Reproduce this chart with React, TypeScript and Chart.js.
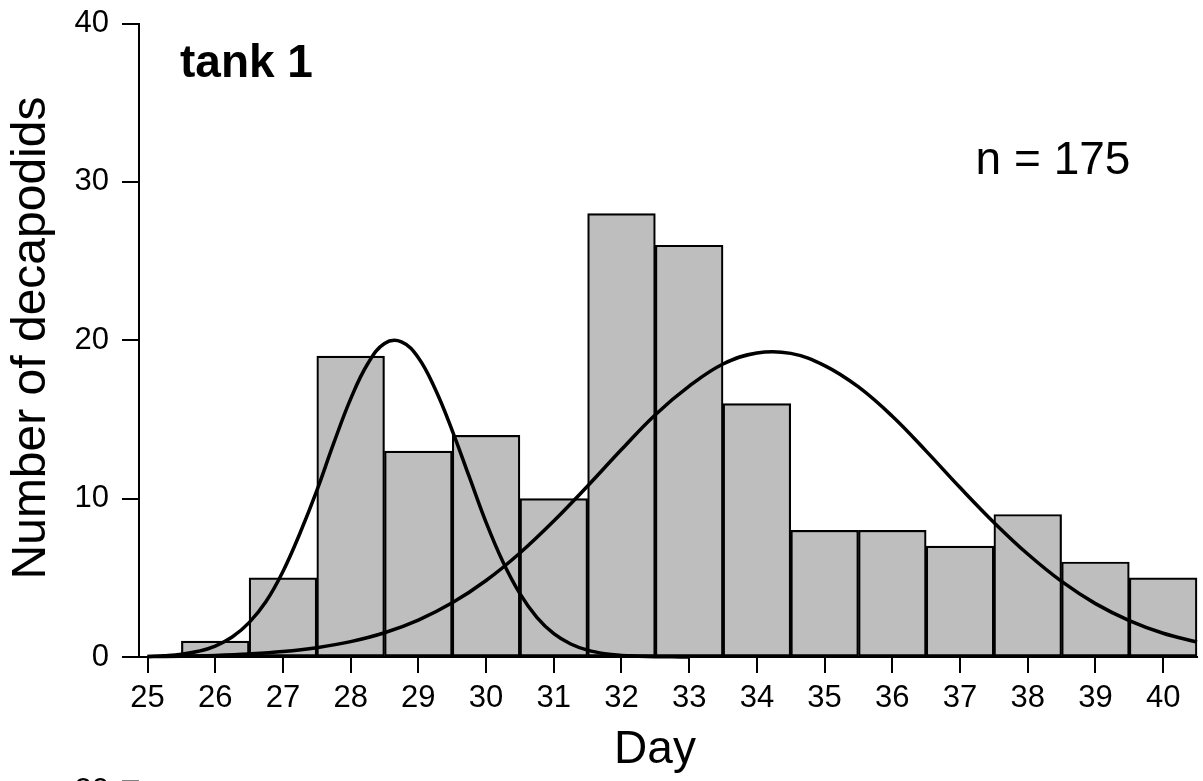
import React, { useEffect, useRef } from "react";
import { Chart, registerables } from "chart.js";

Chart.register(...registerables);

// ---- data ----
const days = [26, 27, 28, 29, 30, 31, 32, 33, 34, 35, 36, 37, 38, 39, 40];
const counts = [1, 5, 19, 13, 14, 10, 28, 26, 16, 8, 8, 7, 9, 6, 5];

const xTickValues = [25, 26, 27, 28, 29, 30, 31, 32, 33, 34, 35, 36, 37, 38, 39, 40];
const yTickValues = [0, 10, 20, 30, 40];

// first fitted curve
const curve1Days = [
  25, 25.25, 25.5, 25.75, 26, 26.25, 26.5, 26.75, 27, 27.25, 27.5, 27.75, 28, 28.25,
  28.5, 28.75, 29, 29.25, 29.5, 29.75, 30, 30.25, 30.5, 30.75, 31, 31.25,
  31.5, 31.75, 32, 32.25, 32.5, 32.75, 33,
];
const curve1Values = [
  0.03, 0.08, 0.17, 0.36, 0.69, 1.26, 2.17, 3.5, 5.4, 7.8, 10.5, 13.5, 16.3, 18.5,
  19.8, 19.9, 18.9, 16.9, 14.3, 11.4, 8.5, 6.0, 4.0, 2.5, 1.47, 0.82,
  0.43, 0.21, 0.1, 0.05, 0.02, 0.01, 0.0,
];

// second fitted curve
const curve2Days = [
  25, 25.5, 26, 26.5, 27, 27.5, 28, 28.5, 29, 29.5, 30, 30.5, 31, 31.5, 32, 32.5,
  33, 33.5, 34, 34.5, 35, 35.5, 36, 36.5, 37, 37.5, 38, 38.5, 39, 39.5, 40, 40.5,
];
const curve2Values = [
  0.03, 0.05, 0.1, 0.19, 0.34, 0.59, 0.97, 1.53, 2.33, 3.42, 4.83, 6.57, 8.59, 10.8, 13.1, 15.3,
  17.1, 18.5, 19.2, 19.17, 18.4, 17.05, 15.2, 13.0, 10.7, 8.5, 6.5, 4.77, 3.37, 2.3, 1.5, 0.95,
];

const panelTitle = "tank 1";
const nLabel = "n = 175";
const xTitle = "Day";
const yTitle = "Number of decapodids";
const nextPanelTickLabel = "20";

const FONT = "'Liberation Sans', Arial, Helvetica, sans-serif";

const textPlugin = {
  id: "textPlugin",
  afterDraw(chart: any) {
    const ctx = chart.ctx;
    ctx.save();
    ctx.fillStyle = "#000";
    // panel title
    ctx.font = `bold 46px ${FONT}`;
    ctx.textAlign = "left";
    ctx.textBaseline = "alphabetic";
    ctx.fillText(panelTitle, 180, 77);
    // n label
    ctx.font = `46px ${FONT}`;
    ctx.textAlign = "center";
    ctx.fillText(nLabel, 1053, 174);
    // x title
    ctx.fillText(xTitle, 655, 763);
    // y title
    ctx.save();
    ctx.font = `48px ${FONT}`;
    ctx.translate(45, 338);
    ctx.rotate(-Math.PI / 2);
    ctx.textAlign = "center";
    ctx.fillText(yTitle, 0, 0);
    ctx.restore();
    // cut-off tick label of the next panel below
    ctx.font = `31px ${FONT}`;
    ctx.textAlign = "right";
    ctx.fillText(nextPanelTickLabel, 109, 800);
    ctx.strokeStyle = "#000";
    ctx.lineWidth = 2;
    ctx.beginPath();
    ctx.moveTo(122, 781.5);
    ctx.lineTo(139, 781.5);
    ctx.stroke();
    ctx.restore();
  },
};

export default function App() {
  const canvasRef = useRef<HTMLCanvasElement | null>(null);

  useEffect(() => {
    const canvas = canvasRef.current;
    if (!canvas) return;
    const chart = new Chart(canvas, {
      type: "bar",
      data: {
        datasets: [
          {
            type: "line",
            data: curve1Days.map((d, i) => ({ x: d, y: curve1Values[i] })),
            borderColor: "#000",
            borderWidth: 3.5,
            pointRadius: 0,
            fill: false,
            tension: 0.4,
            order: 1,
            clip: false,
          } as any,
          {
            type: "line",
            data: curve2Days.map((d, i) => ({ x: d, y: curve2Values[i] })),
            borderColor: "#000",
            borderWidth: 3.5,
            pointRadius: 0,
            fill: false,
            tension: 0.4,
            order: 1,
            clip: false,
          } as any,
          {
            type: "bar",
            data: days.map((d, i) => ({ x: d, y: counts[i] })),
            backgroundColor: "#BEBEBE",
            borderColor: "#000",
            borderWidth: 2.2,
            borderSkipped: false,
            barPercentage: 1,
            categoryPercentage: 1,
            order: 2,
            clip: false,
          } as any,
        ],
      },
      options: {
        animation: false,
        responsive: false,
        devicePixelRatio: 1,
        layout: { padding: { top: 23.5, right: 6, left: 0, bottom: 0 } },
        plugins: {
          legend: { display: false },
          tooltip: { enabled: false },
          title: { display: false },
        },
        scales: {
          x: {
            type: "linear",
            min: 24.874,
            max: 40.5,
            offset: false,
            afterBuildTicks: (scale: any) => {
              scale.ticks = xTickValues.map((v) => ({ value: v }));
            },
            afterFit: (scale: any) => {
              scale.height = 124;
              scale.paddingLeft = 0;
              scale.paddingRight = 0;
            },
            grid: {
              offset: false,
              drawOnChartArea: false,
              drawTicks: true,
              tickLength: 16,
              color: "#000",
              lineWidth: 2,
            },
            border: { display: true, color: "#000", width: 2 },
            ticks: {
              color: "#000",
              font: { family: FONT, size: 31 },
              padding: 7,
              maxRotation: 0,
              autoSkip: false,
              callback: (v: any) => String(v),
            },
          },
          y: {
            type: "linear",
            min: 0,
            max: 40,
            afterBuildTicks: (scale: any) => {
              scale.ticks = yTickValues.map((v) => ({ value: v }));
            },
            afterFit: (scale: any) => {
              scale.width = 139;
              scale.paddingTop = 0;
              scale.paddingBottom = 0;
            },
            grid: {
              drawOnChartArea: false,
              drawTicks: true,
              tickLength: 17,
              color: "#000",
              lineWidth: 2,
            },
            border: { display: true, color: "#000", width: 2 },
            ticks: {
              color: "#000",
              font: { family: FONT, size: 31 },
              padding: 13,
              callback: (v: any) => String(v),
            },
          },
        },
      },
      plugins: [textPlugin],
    });
    return () => chart.destroy();
  }, []);

  return (
    <div style={{ position: "fixed", left: 0, top: 0, width: 1203, height: 781, background: "#fff" }}>
      <canvas ref={canvasRef} width={1203} height={781} style={{ display: "block" }} />
    </div>
  );
}
